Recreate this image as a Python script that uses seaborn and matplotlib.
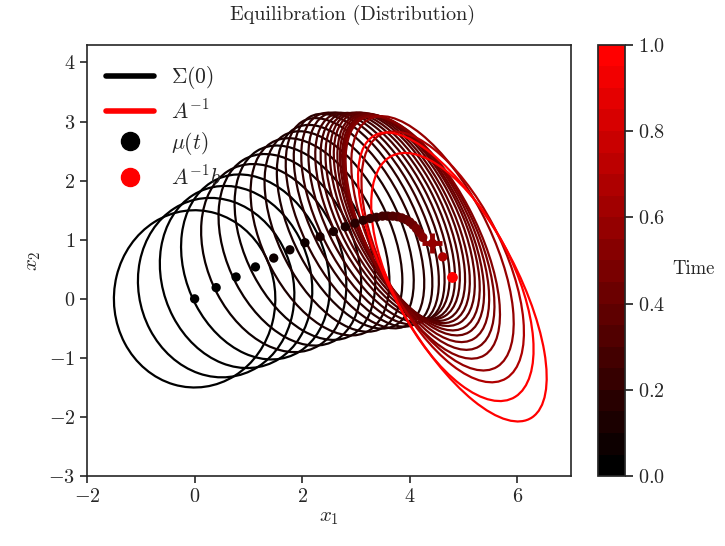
import numpy as np
import matplotlib
matplotlib.use("Agg")
import matplotlib.pyplot as plt
import seaborn as sns
import pandas as pd
from matplotlib.patches import Ellipse
from matplotlib.lines import Line2D
from matplotlib.colors import LinearSegmentedColormap, Normalize
from matplotlib.cm import ScalarMappable

# time of each snapshot (normalised)
t_frames = [0.000, 0.015, 0.030, 0.045, 0.060, 0.075, 0.090, 0.105, 0.120, 0.135,
            0.150, 0.175, 0.200, 0.225, 0.250, 0.275, 0.300, 0.325, 0.350, 0.375,
            0.400, 0.425, 0.450, 0.475, 0.500, 0.580, 0.680, 1.000]
# mean mu(t)
mu_x = [0.00, 0.40, 0.77, 1.13, 1.47, 1.77, 2.05, 2.33, 2.58, 2.80,
        2.98, 3.13, 3.26, 3.38, 3.49, 3.59, 3.68, 3.77, 3.85, 3.93,
        4.00, 4.06, 4.12, 4.18, 4.24, 4.42, 4.61, 4.79]
mu_y = [0.00, 0.19, 0.37, 0.54, 0.69, 0.83, 0.95, 1.05, 1.14, 1.22,
        1.28, 1.33, 1.36, 1.38, 1.40, 1.40, 1.40, 1.39, 1.37, 1.34,
        1.30, 1.25, 1.19, 1.12, 1.04, 0.94, 0.71, 0.37]
# covariance ellipse semi axes / orientation
sig_major = [1.50, 1.55, 1.60, 1.65, 1.70, 1.75, 1.79, 1.83, 1.87, 1.91,
             1.98, 2.01, 2.00, 1.98, 1.95, 1.95, 1.95, 1.97, 1.99, 2.01,
             2.05, 2.09, 2.15, 2.22, 2.30, 2.41, 2.37, 2.34]
sig_minor = [1.50, 1.42, 1.35, 1.28, 1.21, 1.15, 1.10, 1.05, 1.01, 0.97,
             0.95, 0.93, 0.92, 0.91, 0.90, 0.90, 0.90, 0.90, 0.90, 0.91,
             0.92, 0.93, 0.95, 0.97, 0.99, 1.05, 1.08, 1.10]
sig_angle = -60

# A^-1 and A^-1 b
Ainv_major, Ainv_minor, Ainv_angle = 2.80, 1.10, -58
Ainvb = (4.79, 0.37)
plus_pt = (4.42, 0.94)

df = pd.DataFrame({"x": mu_x, "y": mu_y, "t": t_frames})

sns.set_theme(style="ticks")
plt.rcParams["font.family"] = "serif"
plt.rcParams["font.serif"] = ["cmr10", "DejaVu Serif"]
plt.rcParams["mathtext.fontset"] = "cm"
plt.rcParams["axes.formatter.use_mathtext"] = True

cmap = LinearSegmentedColormap.from_list("br", ["black", "red"], N=20)
norm = Normalize(0, 1)

fig = plt.figure(figsize=(7.25, 5.46), dpi=100)
ax = fig.add_axes([0.12, 0.128, 0.668, 0.79])
cax = fig.add_axes([0.825, 0.128, 0.037, 0.79])

for i in range(len(t_frames)):
    e = Ellipse((mu_x[i], mu_y[i]), 2 * sig_major[i], 2 * sig_minor[i], angle=sig_angle,
                fill=False, edgecolor=cmap(norm(t_frames[i])), lw=1.6)
    ax.add_patch(e)

ax.add_patch(Ellipse(Ainvb, 2 * Ainv_major, 2 * Ainv_minor, angle=Ainv_angle,
                     fill=False, edgecolor="red", lw=1.6))

sns.scatterplot(data=df, x="x", y="y", hue="t", palette=cmap, hue_norm=(0, 1),
                s=45, edgecolor="none", legend=False, ax=ax, zorder=5)
ax.plot(*plus_pt, marker="+", markersize=14, mew=3.5, color=cmap(norm(0.58)), zorder=6)
ax.scatter([Ainvb[0]], [Ainvb[1]], s=45, color="red", zorder=7)

ax.set_xlim(-2, 7)
ax.set_ylim(-3, 4.3)
ax.set_xticks([-2, 0, 2, 4, 6])
ax.set_yticks([-3, -2, -1, 0, 1, 2, 3, 4])
ax.tick_params(labelsize=14.5, direction="out", length=5, width=1.2)
for s in ax.spines.values():
    s.set_linewidth(1.2)
ax.set_xlabel(r"$x_1$", fontsize=15, labelpad=2)
ax.set_ylabel(r"$x_2$", fontsize=15)
fig.text(0.486, 0.972, "Equilibration (Distribution)", fontsize=14.5, ha="center", va="center")

handles = [Line2D([0], [0], color="black", lw=4, label=r"$\Sigma(0)$"),
           Line2D([0], [0], color="red", lw=4, label=r"$A^{-1}$"),
           Line2D([0], [0], color="black", marker="o", ls="", markersize=13, label=r"$\mu(t)$"),
           Line2D([0], [0], color="red", marker="o", ls="", markersize=13, label=r"$A^{-1}b$")]
ax.legend(handles=handles, loc="upper left", frameon=False, fontsize=15.5,
          handlelength=2.2, labelspacing=0.35)

cb = fig.colorbar(ScalarMappable(norm=norm, cmap=cmap), cax=cax)
cb.set_ticks([0, 0.2, 0.4, 0.6, 0.8, 1.0])
cb.ax.tick_params(labelsize=14.5)
cb.set_label("Time", rotation=0, fontsize=13.5, labelpad=20)

fig.savefig("out.png", dpi=100)
